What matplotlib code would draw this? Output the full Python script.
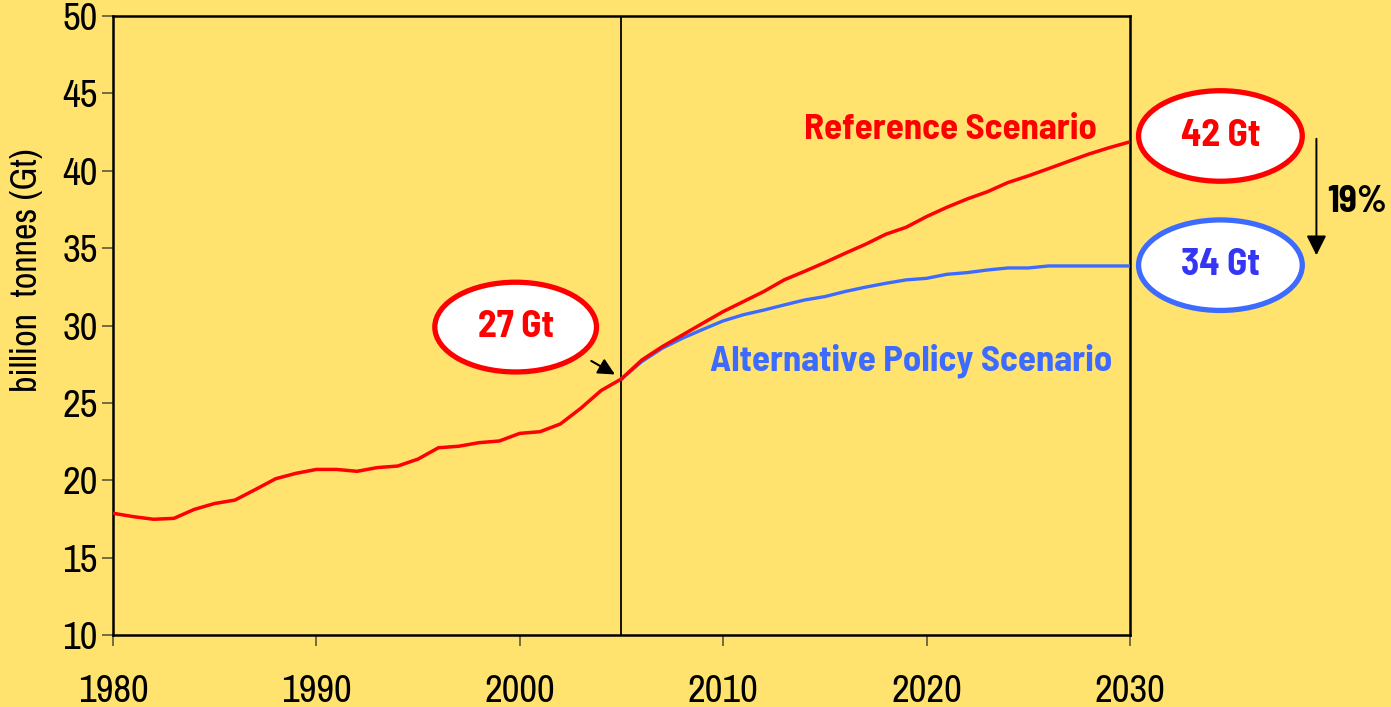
import numpy as np
import matplotlib
matplotlib.use("Agg")
import matplotlib.pyplot as plt
from matplotlib.patches import Ellipse

# historical emissions (billion tonnes CO2)
years_hist = list(range(1980, 2006))
hist = [17.87, 17.65, 17.48, 17.54, 18.12, 18.5, 18.72, 19.4, 20.1, 20.45,
        20.7, 20.7, 20.58, 20.82, 20.92, 21.37, 22.1, 22.2, 22.43, 22.54,
        23.03, 23.14, 23.64, 24.65, 25.8, 26.55]

# projections 2005-2030
years_proj = list(range(2005, 2031))
reference = [26.55, 27.77, 28.63, 29.39, 30.15, 30.9, 31.55, 32.2, 32.95, 33.5,
             34.07, 34.67, 35.25, 35.9, 36.35, 37.04, 37.64, 38.18, 38.65, 39.24,
             39.67, 40.14, 40.62, 41.09, 41.5, 41.87]
alternative = [26.55, 27.67, 28.53, 29.18, 29.75, 30.3, 30.7, 31.0, 31.33, 31.65,
               31.87, 32.2, 32.48, 32.73, 32.95, 33.05, 33.31, 33.42, 33.59, 33.72,
               33.72, 33.85, 33.85, 33.85, 33.85, 33.85]

x_ticks = [1980, 1990, 2000, 2010, 2020, 2030]
y_ticks = [10, 15, 20, 25, 30, 35, 40, 45, 50]

BG = "#FFE36E"
RED = "#FF0000"
BLUE = "#3D6BFF"
REG = ["Archivo Narrow", "DejaVu Sans"]
BOLD = ["Barlow Semi Condensed", "DejaVu Sans"]

plt.rcParams["font.family"] = REG

fig = plt.figure(figsize=(13.91, 7.07), dpi=100, facecolor=BG)
ax = fig.add_axes([0.0812, 0.1018, 0.7311, 0.8755])
ax.set_facecolor(BG)

ax.plot(years_hist, hist, color=RED, lw=2.5, solid_joinstyle="round", zorder=3)
ax.plot(years_proj, alternative, color=BLUE, lw=2.4, zorder=3)
ax.plot(years_proj, reference, color=RED, lw=2.5, zorder=4)

ax.axvline(2005, color="black", lw=1.3, zorder=2)

ax.set_xlim(1980, 2030)
ax.set_ylim(10, 50)
ax.set_xticks(x_ticks)
ax.set_yticks(y_ticks)
ax.tick_params(axis="x", length=8, width=1.2, color="#5a5a3a", labelsize=28, pad=20)
ax.tick_params(axis="y", length=8, width=1.2, color="#5a5a3a", labelsize=28, pad=3)
for s in ax.spines.values():
    s.set_linewidth(1.8)
    s.set_color("black")

fig.text(0.019, 0.618, "billion  tonnes (Gt)", rotation=90, fontsize=26,
         ha="center", va="center")

ax.text(2014.0, 42.63, "Reference Scenario", color=RED, fontsize=26.5,
        fontweight="bold", family=BOLD, ha="left", va="center")
ax.text(2009.35, 27.7, "Alternative Policy Scenario", color=BLUE, fontsize=26.5,
        fontweight="bold", family=BOLD, ha="left", va="center")

# callout ellipses
def bubble(cx, cy, w, h, edge, label, tcolor):
    e = Ellipse((cx, cy), w, h, facecolor="white", edgecolor=edge, lw=3.8,
                clip_on=False, zorder=6)
    ax.add_patch(e)
    ax.text(cx, cy, label, color=tcolor, fontsize=27, fontweight="bold",
            family=BOLD, ha="center", va="center", zorder=7, clip_on=False)

bubble(1999.8, 29.9, 7.95, 5.8, RED, f"{round(hist[-1] + 0.45):.0f} Gt", RED)
bubble(2034.45, 42.25, 8.05, 5.85, RED, f"{reference[-1]:.0f} Gt", RED)
bubble(2034.45, 33.9, 8.05, 5.85, BLUE, f"{alternative[-1]:.0f} Gt", "#3535F5")

# small arrow to 2005
ax.annotate("", xy=(2004.8, 26.75), xytext=(2003.4, 27.8),
            arrowprops=dict(arrowstyle="-|>", color="black", lw=1.5,
                            mutation_scale=25), zorder=5)

# reduction arrow
ax.annotate("", xy=(2039.17, 34.36), xytext=(2039.17, 42.25), annotation_clip=False,
            arrowprops=dict(arrowstyle="-|>", color="black", lw=1.4,
                            mutation_scale=30))
pct = (reference[-1] - alternative[-1]) / reference[-1] * 100
ax.text(2039.69, 38.0, f"{pct:.0f}%", fontsize=27, fontweight="bold",
        family=BOLD, ha="left", va="center", clip_on=False)

fig.savefig("out.png", dpi=100, facecolor=BG)
